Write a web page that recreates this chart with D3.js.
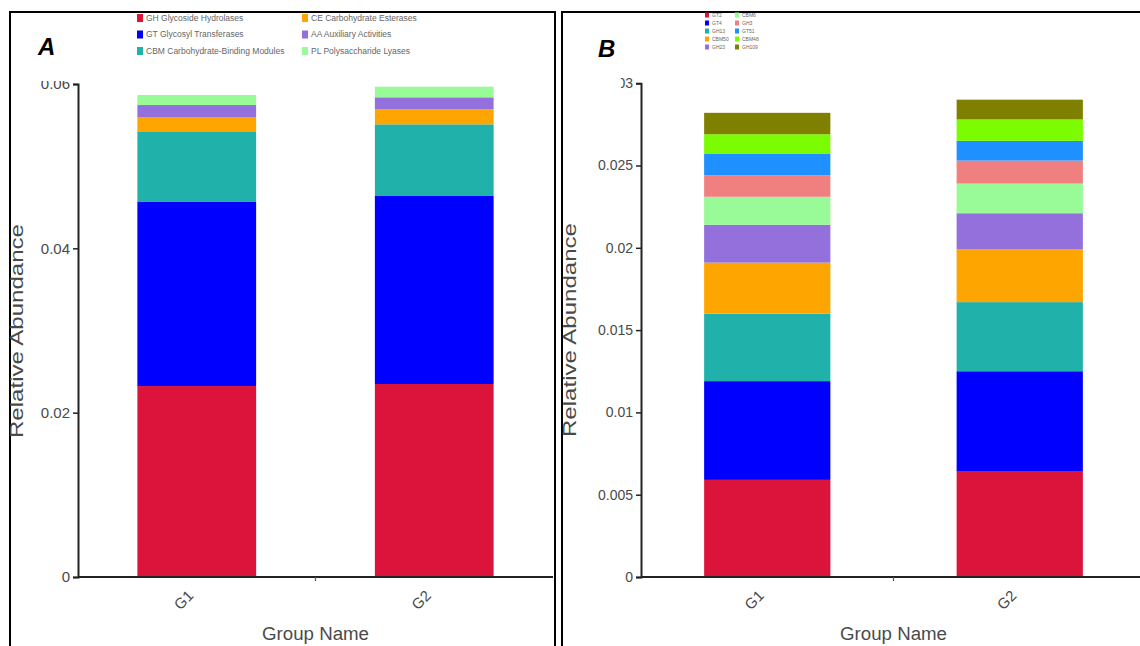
<!DOCTYPE html>
<html>
<head>
<meta charset="utf-8">
<script src="https://cdn.jsdelivr.net/npm/d3@7"></script>
<style>
  html, body { margin: 0; padding: 0; background: #fff; }
  svg { display: block; font-family: "Liberation Sans", Arial, sans-serif; }
</style>
</head>
<body>
<svg id="chart" width="1140" height="646"></svg>
<script>
// ---------- DATA ----------
const groups = ["G1", "G2"];

// Panel A: CAZy classes (stack order bottom -> top)
const seriesA = [
  "GH Glycoside Hydrolases",
  "GT Glycosyl Transferases",
  "CBM Carbohydrate-Binding Modules",
  "CE Carbohydrate Esterases",
  "AA Auxiliary Activities",
  "PL Polysaccharide Lyases"
];
const colorsA = ["#DC143C", "#0000FF", "#20B2AA", "#FFA500", "#9370DB", "#98FB98"];
const valuesA_G1 = [0.02324, 0.02240, 0.00852, 0.00182, 0.00146, 0.00122];
const valuesA_G2 = [0.02349, 0.02288, 0.00872, 0.00183, 0.00146, 0.00129];
const ticksA = [0, 0.02, 0.04, 0.06];

// Panel B: top CAZy families (stack order bottom -> top)
const seriesB = ["GT2", "GT4", "GH13", "CBM50", "GH23", "CBM6", "GH3", "GT51", "CBM48", "GH109"];
const colorsB = ["#DC143C", "#0000FF", "#20B2AA", "#FFA500", "#9370DB", "#98FB98", "#F08080", "#1E90FF", "#7CFC00", "#808000"];
const valuesB_G1 = [0.0059, 0.0060, 0.0041, 0.0031, 0.0023, 0.0017, 0.0013, 0.0013, 0.0012, 0.0013];
const valuesB_G2 = [0.0064, 0.0061, 0.0042, 0.0032, 0.0022, 0.0018, 0.0014, 0.0012, 0.0013, 0.0012];
const ticksB = [0, 0.005, 0.01, 0.015, 0.02, 0.025, 0.03];

// ---------- DRAW ----------
const svg = d3.select("#chart");
const axisColor = "#222";
const textColor = "#4a4a4a";

function drawPanel(cfg) {
  const g = svg.append("g");
  // panel border
  g.append("rect")
    .attr("x", cfg.box[0]).attr("y", cfg.box[1])
    .attr("width", cfg.box[2]).attr("height", cfg.box[3])
    .attr("fill", "none").attr("stroke", "#000").attr("stroke-width", 2);

  const y = d3.scaleLinear().domain([0, cfg.yMax]).range([cfg.y0, cfg.yTop]);
  const x = d3.scaleBand().domain(groups).range([cfg.x0, cfg.x1])
    .paddingInner(0.5).paddingOuter(0.25);

  // stacked data
  const rows = groups.map((gr, i) => {
    const o = { group: gr };
    cfg.series.forEach((s, j) => { o[s] = cfg.values[i][j]; });
    return o;
  });
  const stack = d3.stack().keys(cfg.series)(rows);
  const color = d3.scaleOrdinal().domain(cfg.series).range(cfg.colors);

  g.selectAll("g.layer").data(stack).join("g")
    .attr("fill", d => color(d.key))
    .selectAll("rect").data(d => d).join("rect")
    .attr("x", d => x(d.data.group))
    .attr("width", x.bandwidth())
    .attr("y", d => y(d[1]))
    .attr("height", d => y(d[0]) - y(d[1]));

  // y axis
  const yAxis = d3.axisLeft(y).tickValues(cfg.ticks)
    .tickFormat(d => d === 0 ? "0" : String(d))
    .tickSize(5).tickPadding(3);
  const ya = g.append("g").attr("transform", `translate(${cfg.x0},0)`).call(yAxis);
  ya.select(".domain").attr("stroke", axisColor).attr("stroke-width", 2);
  ya.selectAll(".tick line").attr("stroke", axisColor).attr("stroke-width", 1.5);
  ya.selectAll(".tick text").attr("fill", textColor).attr("font-size", cfg.tickFont);

  // clipping artefact over top tick label
  g.append("rect").attr("x", cfg.mask[0]).attr("y", cfg.mask[1])
    .attr("width", cfg.mask[2]).attr("height", cfg.mask[3]).attr("fill", "#fff");

  // x axis line
  g.append("line")
    .attr("x1", cfg.x0).attr("x2", cfg.xLineEnd)
    .attr("y1", cfg.y0).attr("y2", cfg.y0)
    .attr("stroke", axisColor).attr("stroke-width", 2.2);
  // middle tick
  const mid = (x("G1") + x("G2") + x.bandwidth()) / 2;
  g.append("line").attr("x1", mid).attr("x2", mid)
    .attr("y1", cfg.y0).attr("y2", cfg.y0 + 4)
    .attr("stroke", "#555").attr("stroke-width", 1.2);

  // x labels
  g.selectAll("text.xl").data(groups).join("text")
    .attr("class", "xl")
    .attr("transform", d => `translate(${x(d) + x.bandwidth() / 2 - 6},${cfg.y0 + 16}) rotate(-45)`)
    .attr("text-anchor", "end")
    .attr("dy", "0.35em")
    .attr("fill", textColor).attr("font-size", 15)
    .text(d => d);

  // axis titles
  g.append("text")
    .attr("x", (cfg.x0 + cfg.xTitleEnd) / 2).attr("y", cfg.y0 + 63)
    .attr("text-anchor", "middle").attr("fill", textColor)
    .attr("font-size", 18).attr("textLength", 107).attr("lengthAdjust", "spacingAndGlyphs")
    .text("Group Name");
  g.append("text")
    .attr("transform", `translate(${cfg.yTitleX},${cfg.yTitleY}) rotate(-90)`)
    .attr("text-anchor", "middle").attr("fill", textColor)
    .attr("font-size", 19).attr("textLength", 214).attr("lengthAdjust", "spacingAndGlyphs")
    .text("Relative Abundance");

  // panel letter
  g.append("text")
    .attr("x", cfg.letterPos[0]).attr("y", cfg.letterPos[1])
    .attr("font-size", 24).attr("font-weight", "bold").attr("font-style", "italic")
    .attr("fill", "#000").text(cfg.letter);

  // legend
  const L = cfg.legend;
  const items = cfg.series.map((s, i) => ({
    s, c: cfg.colors[i],
    col: Math.floor(i / L.perCol), row: i % L.perCol
  }));
  const lg = g.append("g");
  lg.selectAll("rect").data(items).join("rect")
    .attr("x", d => L.cols[d.col])
    .attr("y", d => L.y + d.row * L.dy - L.sq / 2)
    .attr("width", L.sqW).attr("height", L.sq)
    .attr("fill", d => d.c);
  lg.selectAll("text").data(items).join("text")
    .attr("x", d => L.cols[d.col] + L.sqW + L.gap)
    .attr("y", d => L.y + d.row * L.dy)
    .attr("dy", "0.35em")
    .attr("font-size", L.font).attr("fill", "#666")
    .text(d => d.s);
}

drawPanel({
  letter: "A", letterPos: [38, 55],
  box: [10, 12, 545, 660],
  series: seriesA, colors: colorsA, values: [valuesA_G1, valuesA_G2],
  ticks: ticksA, yMax: 0.06,
  x0: 78, x1: 553, xLineEnd: 553, xTitleEnd: 553,
  y0: 577, yTop: 84, yTitleX: 23, yTitleY: 331, tickFont: 15,
  mask: [20, 60, 56, 21],
  legend: { cols: [137, 302], perCol: 3, y: 18, dy: 16.5, sq: 8, sqW: 6, gap: 3, font: 8.5 }
});

drawPanel({
  letter: "B", letterPos: [598, 57],
  box: [562, 12, 600, 660],
  series: seriesB, colors: colorsB, values: [valuesB_G1, valuesB_G2],
  ticks: ticksB, yMax: 0.03,
  x0: 641, x1: 1146, xLineEnd: 1140, xTitleEnd: 1146,
  y0: 577, yTop: 83.2, yTitleX: 576, yTitleY: 330, tickFont: 14,
  mask: [575, 60, 46, 35],
  legend: { cols: [705, 735], perCol: 5, y: 15, dy: 8, sq: 5, sqW: 4, gap: 3, font: 5 }
});
</script>
</body>
</html>
